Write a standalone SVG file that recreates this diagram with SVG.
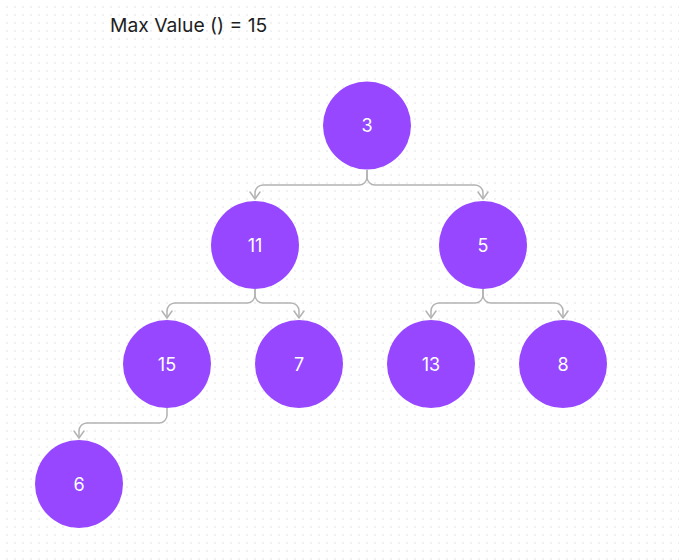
<svg xmlns="http://www.w3.org/2000/svg" width="679" height="560" viewBox="0 0 679 560">
  <defs>
    <pattern id="dots" x="0" y="0" width="8" height="8" patternUnits="userSpaceOnUse">
      <rect x="6" y="6" width="2" height="2" fill="#f1f1f1"/>
    </pattern>
    <marker id="arr" viewBox="0 0 12 12" refX="10" refY="6" markerWidth="12" markerHeight="12" markerUnits="userSpaceOnUse" orient="auto">
      <path d="M3,1 L10,6 L3,11" fill="none" stroke="#b3b3b3" stroke-width="1.5" stroke-linecap="round" stroke-linejoin="round"/>
    </marker>
    <style>
      .node circle { fill: #9747ff; }
      .node text { fill: #ffffff; font-family: Inter, "Liberation Sans", sans-serif; font-size: 18px; text-anchor: middle; dominant-baseline: central; }
      .conn path { fill: none; stroke: #b3b3b3; stroke-width: 1.5; marker-end: url(#arr); }
      .title { fill: #1e1e1e; font-family: Inter, "Liberation Sans", sans-serif; font-size: 19.3px; }
    </style>
  </defs>
  <rect width="679" height="560" fill="#ffffff"/>
  <rect width="679" height="560" fill="url(#dots)"/>
  <text class="title" x="110" y="32">Max Value () = 15</text>
  <g id="connectors" class="conn">
    <path d="M367,170 V177 A8,8 0 0 1 359,185 H263 A8,8 0 0 0 255,193 V199"/>
    <path d="M367,170 V177 A8,8 0 0 0 375,185 H475 A8,8 0 0 1 483,193 V199"/>
    <path d="M255,289 V295 A8,8 0 0 1 247,303 H175 A8,8 0 0 0 167,311 V318"/>
    <path d="M255,289 V295 A8,8 0 0 0 263,303 H291 A8,8 0 0 1 299,311 V318"/>
    <path d="M483,289 V295 A8,8 0 0 1 475,303 H439 A8,8 0 0 0 431,311 V318"/>
    <path d="M483,289 V295 A8,8 0 0 0 491,303 H555 A8,8 0 0 1 563,311 V318"/>
    <path d="M167,408 V415 A8,8 0 0 1 159,423 H87 A8,8 0 0 0 79,431 V438"/>
  </g>
  <g id="n3" class="node"><circle cx="367" cy="125.5" r="44"/><text x="367" y="125.5">3</text></g>
  <g id="n11" class="node"><circle cx="255" cy="245" r="44"/><text x="255" y="245">11</text></g>
  <g id="n5" class="node"><circle cx="483" cy="245" r="44"/><text x="483" y="245">5</text></g>
  <g id="n15" class="node"><circle cx="167" cy="364" r="44"/><text x="167" y="364">15</text></g>
  <g id="n7" class="node"><circle cx="299" cy="364" r="44"/><text x="299" y="364">7</text></g>
  <g id="n13" class="node"><circle cx="431" cy="364" r="44"/><text x="431" y="364">13</text></g>
  <g id="n8" class="node"><circle cx="563" cy="364" r="44"/><text x="563" y="364">8</text></g>
  <g id="n6" class="node"><circle cx="79" cy="484" r="44"/><text x="79" y="484">6</text></g>
</svg>
